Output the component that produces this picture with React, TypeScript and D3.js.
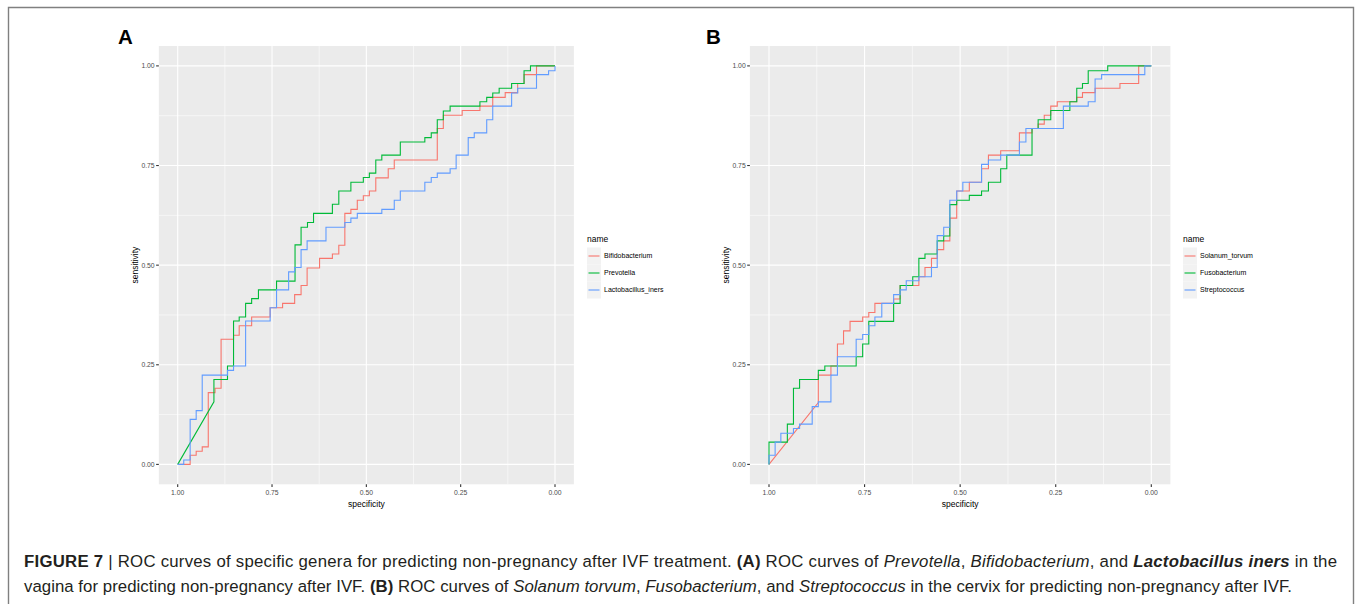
import React from "react";
import * as d3 from "d3";

// ROC curve vertices as [specificity, sensitivity]
type Pt = [number, number];

const TICK_VALUES = [1, 0.75, 0.5, 0.25, 0];
const TICK_LABELS = ["1.00", "0.75", "0.50", "0.25", "0.00"];
const MINOR_VALUES = [0.875, 0.625, 0.375, 0.125];

const NAMES_A = ["Bifidobacterium", "Prevotella", "Lactobacillus_iners"];
const NAMES_B = ["Solanum_torvum", "Fusobacterium", "Streptococcus"];
const HUES = ["#F8766D", "#00BA38", "#619CFF"];

const bifidobacterium: Pt[] = [
  [1, 0], [0.967, 0], [0.967, 0.023], [0.951, 0.023], [0.951, 0.033], [0.935, 0.033], [0.935, 0.044],
  [0.919, 0.044], [0.919, 0.18], [0.901, 0.18], [0.901, 0.191], [0.885, 0.191], [0.885, 0.314],
  [0.852, 0.314], [0.852, 0.324], [0.837, 0.324], [0.837, 0.348], [0.804, 0.348], [0.804, 0.37],
  [0.755, 0.37], [0.755, 0.393], [0.722, 0.393], [0.722, 0.404], [0.69, 0.404], [0.69, 0.426],
  [0.673, 0.426], [0.673, 0.449], [0.657, 0.449], [0.657, 0.493], [0.624, 0.493], [0.624, 0.517],
  [0.59, 0.517], [0.59, 0.528], [0.573, 0.528], [0.573, 0.55], [0.557, 0.55], [0.557, 0.63],
  [0.541, 0.63], [0.541, 0.64], [0.524, 0.64], [0.524, 0.663], [0.508, 0.663], [0.508, 0.674],
  [0.492, 0.674], [0.492, 0.686], [0.475, 0.686], [0.475, 0.719], [0.442, 0.719], [0.442, 0.742],
  [0.426, 0.742], [0.426, 0.764], [0.312, 0.764], [0.312, 0.843], [0.296, 0.843], [0.296, 0.876],
  [0.246, 0.876], [0.246, 0.888], [0.199, 0.888], [0.199, 0.899], [0.165, 0.899], [0.165, 0.921],
  [0.132, 0.921], [0.132, 0.933], [0.099, 0.933], [0.099, 0.956], [0.082, 0.956], [0.082, 0.978],
  [0.049, 0.978], [0.049, 1], [0, 1],
];

const prevotella: Pt[] = [
  [1, 0], [0.904, 0.157], [0.904, 0.213], [0.868, 0.213], [0.868, 0.247], [0.852, 0.247], [0.852, 0.36],
  [0.837, 0.36], [0.837, 0.37], [0.82, 0.37], [0.82, 0.404], [0.804, 0.404], [0.804, 0.416],
  [0.786, 0.416], [0.786, 0.438], [0.738, 0.438], [0.738, 0.46], [0.689, 0.46], [0.689, 0.551],
  [0.673, 0.551], [0.673, 0.595], [0.656, 0.595], [0.656, 0.607], [0.64, 0.607], [0.64, 0.63],
  [0.59, 0.63], [0.59, 0.653], [0.573, 0.653], [0.573, 0.686], [0.541, 0.686], [0.541, 0.708],
  [0.508, 0.708], [0.508, 0.72], [0.492, 0.72], [0.492, 0.731], [0.475, 0.731], [0.475, 0.764],
  [0.459, 0.764], [0.459, 0.776], [0.41, 0.776], [0.41, 0.809], [0.345, 0.809], [0.345, 0.82],
  [0.328, 0.82], [0.328, 0.832], [0.312, 0.832], [0.312, 0.865], [0.296, 0.865], [0.296, 0.887],
  [0.278, 0.887], [0.278, 0.899], [0.199, 0.899], [0.199, 0.91], [0.181, 0.91], [0.181, 0.921],
  [0.165, 0.921], [0.165, 0.932], [0.148, 0.932], [0.148, 0.944], [0.115, 0.944], [0.115, 0.956],
  [0.082, 0.956], [0.082, 0.988], [0.065, 0.988], [0.065, 1], [0, 1],
];

const lactobacillusIners: Pt[] = [
  [1, 0], [0.984, 0], [0.984, 0.011], [0.967, 0.011], [0.967, 0.113], [0.951, 0.113], [0.951, 0.135],
  [0.935, 0.135], [0.935, 0.224], [0.868, 0.224], [0.868, 0.236], [0.852, 0.236], [0.852, 0.247],
  [0.82, 0.247], [0.82, 0.36], [0.755, 0.36], [0.755, 0.393], [0.738, 0.393], [0.738, 0.438],
  [0.706, 0.438], [0.706, 0.483], [0.69, 0.483], [0.69, 0.494], [0.673, 0.494], [0.673, 0.539],
  [0.657, 0.539], [0.657, 0.561], [0.607, 0.561], [0.607, 0.595], [0.557, 0.595], [0.557, 0.607],
  [0.541, 0.607], [0.541, 0.618], [0.524, 0.618], [0.524, 0.63], [0.459, 0.63], [0.459, 0.64],
  [0.426, 0.64], [0.426, 0.663], [0.41, 0.663], [0.41, 0.686], [0.345, 0.686], [0.345, 0.708],
  [0.328, 0.708], [0.328, 0.72], [0.312, 0.72], [0.312, 0.731], [0.278, 0.731], [0.278, 0.742],
  [0.262, 0.742], [0.262, 0.776], [0.23, 0.776], [0.23, 0.82], [0.214, 0.82], [0.214, 0.832],
  [0.181, 0.832], [0.181, 0.865], [0.165, 0.865], [0.165, 0.899], [0.115, 0.899], [0.115, 0.932],
  [0.099, 0.932], [0.099, 0.944], [0.049, 0.944], [0.049, 0.978], [0.017, 0.978], [0.017, 0.988],
  [0, 0.988], [0, 1],
];

const solanumTorvum: Pt[] = [
  [1, 0], [0.871, 0.155], [0.871, 0.224], [0.838, 0.224], [0.838, 0.247], [0.821, 0.247], [0.821, 0.302],
  [0.805, 0.302], [0.805, 0.335], [0.788, 0.335], [0.788, 0.359], [0.755, 0.359], [0.755, 0.37],
  [0.739, 0.37], [0.739, 0.381], [0.723, 0.381], [0.723, 0.404], [0.674, 0.404], [0.674, 0.415],
  [0.657, 0.415], [0.657, 0.449], [0.608, 0.449], [0.608, 0.471], [0.592, 0.471], [0.592, 0.494],
  [0.575, 0.494], [0.575, 0.517], [0.56, 0.517], [0.56, 0.539], [0.543, 0.539], [0.543, 0.561],
  [0.527, 0.561], [0.527, 0.618], [0.509, 0.618], [0.509, 0.686], [0.476, 0.686], [0.476, 0.708],
  [0.444, 0.708], [0.444, 0.742], [0.426, 0.742], [0.426, 0.776], [0.394, 0.776], [0.394, 0.787],
  [0.345, 0.787], [0.345, 0.832], [0.312, 0.832], [0.312, 0.843], [0.296, 0.843], [0.296, 0.854],
  [0.28, 0.854], [0.28, 0.876], [0.263, 0.876], [0.263, 0.899], [0.246, 0.899], [0.246, 0.91],
  [0.195, 0.91], [0.195, 0.921], [0.18, 0.921], [0.18, 0.933], [0.147, 0.933], [0.147, 0.944],
  [0.082, 0.944], [0.082, 0.956], [0.033, 0.956], [0.033, 1], [0, 1],
];

const fusobacterium: Pt[] = [
  [1, 0], [1, 0.056], [0.952, 0.056], [0.952, 0.101], [0.936, 0.101], [0.936, 0.191], [0.92, 0.191],
  [0.92, 0.213], [0.871, 0.213], [0.871, 0.236], [0.854, 0.236], [0.854, 0.247], [0.772, 0.247],
  [0.772, 0.27], [0.755, 0.27], [0.755, 0.302], [0.739, 0.302], [0.739, 0.359], [0.674, 0.359],
  [0.674, 0.404], [0.657, 0.404], [0.657, 0.449], [0.624, 0.449], [0.624, 0.471], [0.608, 0.471],
  [0.608, 0.517], [0.592, 0.517], [0.592, 0.528], [0.56, 0.528], [0.56, 0.561], [0.543, 0.561],
  [0.543, 0.573], [0.527, 0.573], [0.527, 0.652], [0.509, 0.652], [0.509, 0.663], [0.476, 0.663],
  [0.476, 0.675], [0.444, 0.675], [0.444, 0.686], [0.426, 0.686], [0.426, 0.708], [0.394, 0.708],
  [0.394, 0.742], [0.378, 0.742], [0.378, 0.776], [0.312, 0.776], [0.312, 0.843], [0.296, 0.843],
  [0.296, 0.865], [0.263, 0.865], [0.263, 0.888], [0.213, 0.888], [0.213, 0.91], [0.195, 0.91],
  [0.195, 0.944], [0.18, 0.944], [0.18, 0.956], [0.165, 0.956], [0.165, 0.988], [0.114, 0.988],
  [0.114, 1], [0, 1],
];

const streptococcus: Pt[] = [
  [1, 0], [1, 0.023], [0.984, 0.023], [0.984, 0.056], [0.969, 0.056], [0.969, 0.078], [0.936, 0.078],
  [0.936, 0.09], [0.92, 0.09], [0.92, 0.101], [0.887, 0.101], [0.887, 0.145], [0.871, 0.145],
  [0.871, 0.157], [0.838, 0.157], [0.838, 0.224], [0.821, 0.224], [0.821, 0.27], [0.772, 0.27],
  [0.772, 0.314], [0.755, 0.314], [0.755, 0.326], [0.739, 0.326], [0.739, 0.348], [0.723, 0.348],
  [0.723, 0.37], [0.705, 0.37], [0.705, 0.404], [0.674, 0.404], [0.674, 0.426], [0.657, 0.426],
  [0.657, 0.438], [0.641, 0.438], [0.641, 0.461], [0.608, 0.461], [0.608, 0.471], [0.575, 0.471],
  [0.575, 0.494], [0.56, 0.494], [0.56, 0.574], [0.543, 0.574], [0.543, 0.595], [0.527, 0.595],
  [0.527, 0.663], [0.509, 0.663], [0.509, 0.686], [0.493, 0.686], [0.493, 0.708], [0.444, 0.708],
  [0.444, 0.753], [0.426, 0.753], [0.426, 0.764], [0.394, 0.764], [0.394, 0.776], [0.345, 0.776],
  [0.345, 0.809], [0.328, 0.809], [0.328, 0.843], [0.23, 0.843], [0.23, 0.899], [0.165, 0.899],
  [0.165, 0.91], [0.147, 0.91], [0.147, 0.967], [0.13, 0.967], [0.13, 0.978], [0.017, 0.978],
  [0.017, 1], [0, 1],
];

const SERIES_A: Pt[][] = [bifidobacterium, prevotella, lactobacillusIners];
const SERIES_B: Pt[][] = [solanumTorvum, fusobacterium, streptococcus];

const W = 1356;
const H = 604;
const PLOT_FONT = "'Liberation Sans', Arial, Helvetica, sans-serif";

type PanelProps = {
  tag: string;
  tagX: number;
  xLeft: number; // pixel for specificity 1.00
  xRight: number; // pixel for specificity 0.00
  legendX: number;
  names: string[];
  series: Pt[][];
};

function RocPanel({ tag, tagX, xLeft, xRight, legendX, names, series }: PanelProps) {
  const x = d3.scaleLinear().domain([1, 0]).range([xLeft, xRight]);
  const y = d3.scaleLinear().domain([0, 1]).range([464.4, 65.9]);
  const px0 = x(1.05);
  const px1 = x(-0.05);
  const py0 = y(1.05);
  const py1 = y(-0.05);
  const line = d3
    .line<Pt>()
    .x((d) => x(d[0]))
    .y((d) => y(d[1]));
  const tickLen = 2.7;
  const midX = (px0 + px1) / 2;
  const midY = (py0 + py1) / 2;
  const keyCenters = [256, 273, 290];

  return (
    <g fontFamily={PLOT_FONT}>
      <text x={tagX} y={44} fontSize={20.5} fontWeight="bold" fill="#000" textAnchor="middle">
        {tag}
      </text>
      <rect x={px0} y={py0} width={px1 - px0} height={py1 - py0} fill="#EBEBEB" />
      {MINOR_VALUES.map((v) => (
        <g key={"m" + v}>
          <line x1={px0} x2={px1} y1={y(v)} y2={y(v)} stroke="#fff" strokeWidth={0.55} />
          <line x1={x(v)} x2={x(v)} y1={py0} y2={py1} stroke="#fff" strokeWidth={0.55} />
        </g>
      ))}
      {TICK_VALUES.map((v) => (
        <g key={"M" + v}>
          <line x1={px0} x2={px1} y1={y(v)} y2={y(v)} stroke="#fff" strokeWidth={1.1} />
          <line x1={x(v)} x2={x(v)} y1={py0} y2={py1} stroke="#fff" strokeWidth={1.1} />
        </g>
      ))}
      {series.map((s, i) => (
        <path key={names[i]} d={line(s) || ""} fill="none" stroke={HUES[i]} strokeWidth={1.1} />
      ))}
      {TICK_VALUES.map((v, i) => (
        <g key={"t" + v}>
          <line x1={px0 - tickLen} x2={px0} y1={y(v)} y2={y(v)} stroke="#333" strokeWidth={1.1} />
          <text x={px0 - tickLen - 1.5} y={y(v) + 2.4} fontSize={6.8} fill="#4D4D4D" textAnchor="end">
            {TICK_LABELS[i]}
          </text>
          <line x1={x(v)} x2={x(v)} y1={py1} y2={py1 + tickLen} stroke="#333" strokeWidth={1.1} />
          <text x={x(v)} y={py1 + tickLen + 7.6} fontSize={6.8} fill="#4D4D4D" textAnchor="middle">
            {TICK_LABELS[i]}
          </text>
        </g>
      ))}
      <text x={midX} y={506.5} fontSize={8.5} fill="#000" textAnchor="middle">
        specificity
      </text>
      <text
        transform={`translate(${px0 - 20.5},${midY}) rotate(-90)`}
        fontSize={8.5}
        fill="#000"
        textAnchor="middle"
      >
        sensitivity
      </text>
      <text x={legendX} y={242} fontSize={8.5} fill="#000">
        name
      </text>
      {names.map((n, i) => (
        <g key={"k" + n}>
          <rect x={legendX} y={keyCenters[i] - 8.5} width={14} height={17} fill="#F2F2F2" />
          <line
            x1={legendX + 1.5}
            x2={legendX + 12.5}
            y1={keyCenters[i]}
            y2={keyCenters[i]}
            stroke={HUES[i]}
            strokeWidth={1.1}
          />
          <text x={legendX + 17} y={keyCenters[i] + 2.4} fontSize={7} fill="#000">
            {n}
          </text>
        </g>
      ))}
    </g>
  );
}

const CAPTION_FONT = "'Liberation Sans', Arial, Helvetica, sans-serif";

export default function App() {
  return (
    <svg
      width={W}
      height={H}
      viewBox={`0 0 ${W} ${H}`}
      style={{ position: "absolute", left: 0, top: 0, background: "#fff" }}
    >
      <rect x={0} y={0} width={W} height={H} fill="#fff" />
      <path d={`M8.5,${H} V7.5 H1353.5 V${H}`} fill="none" stroke="#808080" strokeWidth={1.4} />
      <RocPanel
        tag="A"
        tagX={125.5}
        xLeft={177.7}
        xRight={555.0}
        legendX={587}
        names={NAMES_A}
        series={SERIES_A}
      />
      <RocPanel
        tag="B"
        tagX={713.5}
        xLeft={769.0}
        xRight={1151.3}
        legendX={1183}
        names={NAMES_B}
        series={SERIES_B}
      />
      <g fontFamily={CAPTION_FONT} fontSize={16.8} fill="#231F20">
        <text x={24} y={567} textLength={1313} lengthAdjust="spacing">
          <tspan fontWeight="bold">FIGURE 7</tspan>
          <tspan> | </tspan>
          <tspan>ROC curves of specific genera for predicting non-pregnancy after IVF treatment. </tspan>
          <tspan fontWeight="bold">(A)</tspan>
          <tspan> ROC curves of </tspan>
          <tspan fontStyle="italic">Prevotella</tspan>
          <tspan>, </tspan>
          <tspan fontStyle="italic">Bifidobacterium</tspan>
          <tspan>, and </tspan>
          <tspan fontStyle="italic" fontWeight="bold">Lactobacillus iners</tspan>
          <tspan> in the</tspan>
        </text>
        <text x={24} y={592} textLength={1268} lengthAdjust="spacing">
          <tspan>vagina for predicting non-pregnancy after IVF. </tspan>
          <tspan fontWeight="bold">(B)</tspan>
          <tspan> ROC curves of </tspan>
          <tspan fontStyle="italic">Solanum torvum</tspan>
          <tspan>, </tspan>
          <tspan fontStyle="italic">Fusobacterium</tspan>
          <tspan>, and </tspan>
          <tspan fontStyle="italic">Streptococcus</tspan>
          <tspan> in the cervix for predicting non-pregnancy after IVF.</tspan>
        </text>
      </g>
    </svg>
  );
}
